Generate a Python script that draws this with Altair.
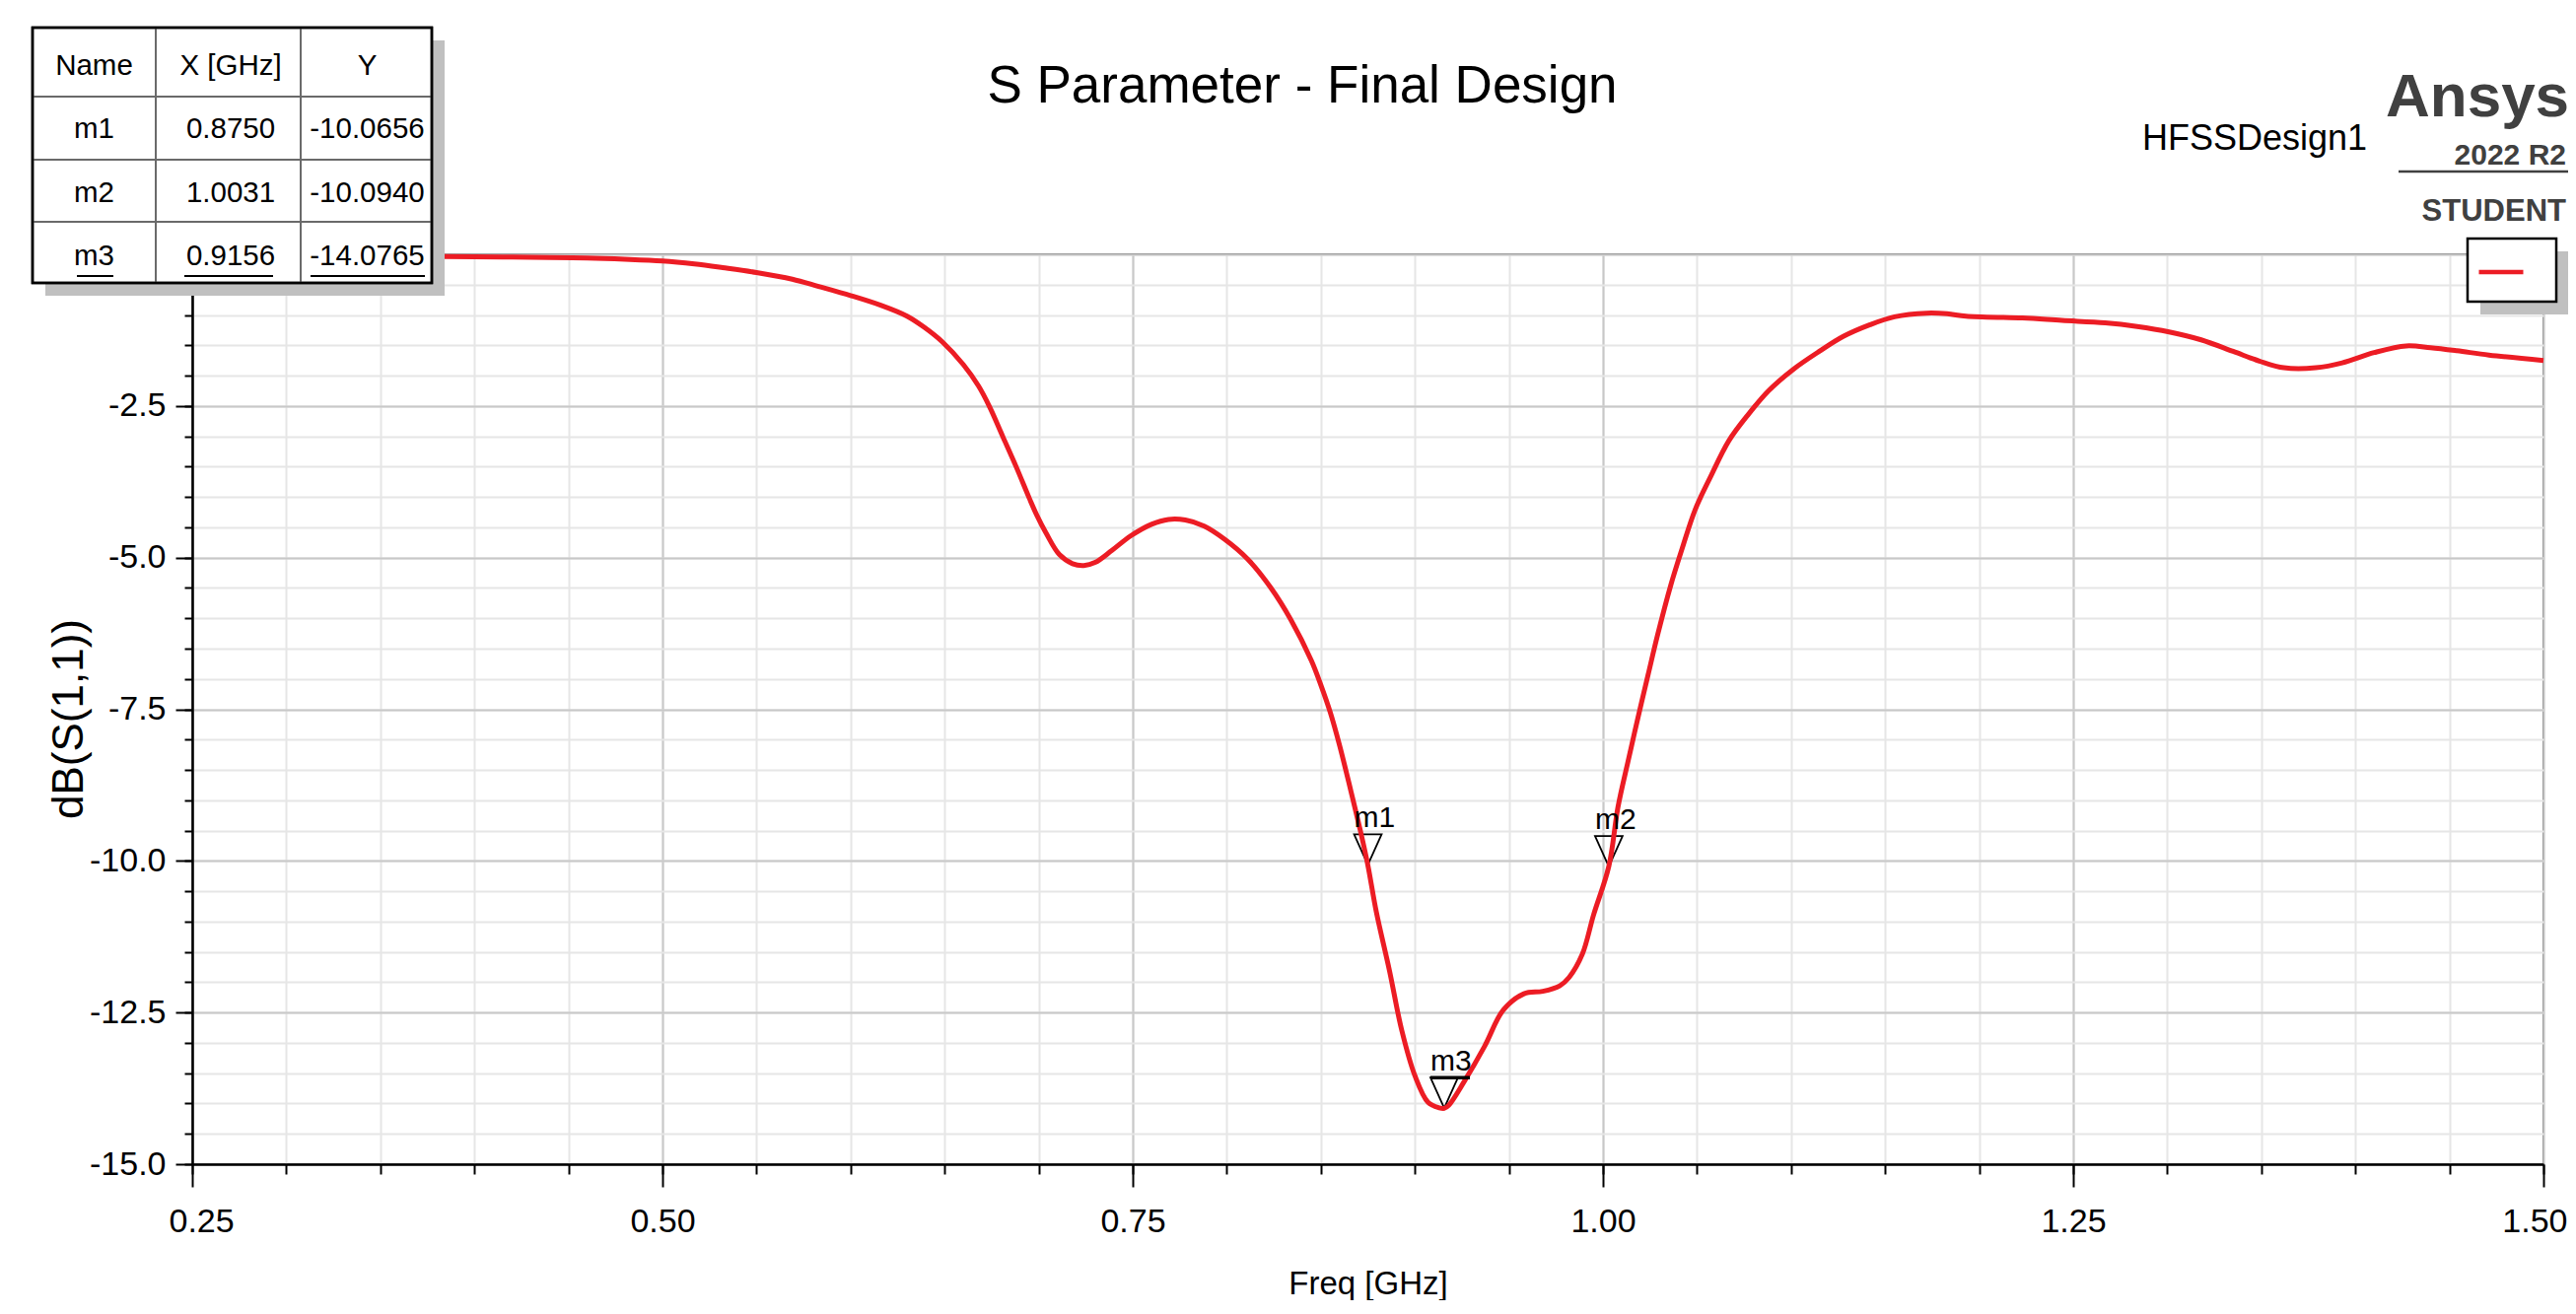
import altair as alt
import pandas as pd

# ---------------- data ----------------
freq = [0.25, 0.30, 0.35, 0.40, 0.43, 0.46, 0.48, 0.50, 0.517, 0.532, 0.55, 0.569, 0.583, 0.60,
        0.616, 0.630, 0.639, 0.649, 0.660, 0.668, 0.674, 0.681, 0.688, 0.695, 0.699, 0.704, 0.711,
        0.718, 0.724, 0.730, 0.739, 0.749, 0.760, 0.769, 0.778, 0.788, 0.799, 0.811, 0.8235, 0.834,
        0.845, 0.850, 0.855, 0.860, 0.866, 0.871, 0.875, 0.8795, 0.8865, 0.893, 0.900, 0.907, 0.913,
        0.9156, 0.918, 0.926, 0.937, 0.947, 0.958, 0.968, 0.977, 0.982, 0.989, 0.995, 1.0031, 1.008,
        1.0134, 1.0186, 1.024, 1.029, 1.036, 1.042, 1.049, 1.057, 1.067, 1.0775, 1.088, 1.101, 1.115,
        1.128, 1.142, 1.155, 1.172, 1.183, 1.193, 1.223, 1.244, 1.267, 1.284, 1.301, 1.318, 1.335,
        1.349, 1.362, 1.379, 1.393, 1.410, 1.427, 1.440, 1.454, 1.471, 1.50]
s11_db = [-0.01, -0.02, -0.03, -0.04, -0.05, -0.06, -0.08, -0.11, -0.16, -0.22, -0.30, -0.41, -0.53,
          -0.68, -0.84, -1.02, -1.20, -1.45, -1.82, -2.17, -2.52, -3.01, -3.50, -4.02, -4.30, -4.60,
          -4.95, -5.10, -5.13, -5.08, -4.88, -4.64, -4.45, -4.37, -4.38, -4.48, -4.70, -5.02, -5.50,
          -6.02, -6.70, -7.10, -7.55, -8.10, -8.85, -9.50, -10.07, -10.84, -11.81, -12.79, -13.54,
          -13.98, -14.07, -14.08, -14.03, -13.65, -13.06, -12.46, -12.19, -12.15, -12.06, -11.92,
          -11.54, -10.89, -10.09, -9.11, -8.35, -7.64, -6.93, -6.28, -5.46, -4.86, -4.21, -3.68,
          -3.07, -2.63, -2.25, -1.90, -1.60, -1.35, -1.16, -1.03, -0.97, -0.98, -1.02, -1.05, -1.09,
          -1.13, -1.19, -1.28, -1.41, -1.60, -1.76, -1.87, -1.87, -1.79, -1.62, -1.51, -1.54, -1.59,
          -1.66, -1.75]
assert len(freq) == len(s11_db)

marker_names = ["m1", "m2", "m3"]
marker_freq = [0.8750, 1.0031, 0.9156]
marker_db = [-10.0656, -10.0940, -14.0765]
table_header = ["Name", "X [GHz]", "Y"]

x_ticks = [0.25, 0.50, 0.75, 1.00, 1.25, 1.50]
y_ticks = [-15.0, -12.5, -10.0, -7.5, -5.0, -2.5, 0.0]
x_minor = [round(0.25 + 0.05 * i, 2) for i in range(26)]
y_minor = [round(-15 + 0.5 * i, 1) for i in range(31)]

chart_title = "S Parameter - Final Design"
design_name = "HFSSDesign1"
trace_name = "dB(S(1,1))"
x_title = "Freq [GHz]"

# ---------------- layout / style ----------------
PX0, PY0 = 195, 258          # page position of the plot origin
W, H = 2385, 923


def rx(px):
    return px - PX0


def ry(py):
    return py - PY0


FONT = "Liberation Sans, Arial, sans-serif"
RED = "#ec1c24"
MINOR = "#e6e6e6"
MAJOR = "#c8c8c8"
LOGO = "#404040"
TRI = "M -0.45 -1 L 0.45 -1 L 0 0 Z"
M3BAR = "M -0.45 -1 L 0.84 -1"
TRI_SIZE = 3844
HYPHEN = "replace(datum.label, '\u2212', '-')"

xs = alt.Scale(domain=[0.25, 1.5], nice=False, zero=False)
ys = alt.Scale(domain=[-15, 0], nice=False, zero=False)

curve_df = pd.DataFrame({"freq": freq, "db": s11_db, "trace": trace_name})
mk_df = pd.DataFrame({"name": marker_names, "freq": marker_freq, "db": marker_db})
one = pd.DataFrame({"k": [0]})

# minor grid / ticks carried by the marker triangles
x_minor_axis = alt.Axis(values=x_minor, grid=True, gridColor=MINOR, gridWidth=2, ticks=True,
                        tickSize=10, tickColor="black", tickWidth=2, labels=False, domain=False,
                        title=None, orient="bottom")
y_minor_axis = alt.Axis(values=y_minor, grid=True, gridColor=MINOR, gridWidth=2, ticks=True,
                        tickSize=8, tickColor="black", tickWidth=2, labels=False, domain=False,
                        title=None, orient="left")

x_major_axis = alt.Axis(values=x_ticks, format=".2f", grid=True, gridColor=MAJOR, gridWidth=2,
                        tickSize=23, tickColor="black", tickWidth=2, domain=True,
                        domainColor="black", domainWidth=2.5, labelFont=FONT, labelFontSize=34,
                        labelColor="black", labelPadding=18, labelFlush=True,
                        labelFlushOffset=24, labelOverlap=False,
                        title=x_title, titleFont=FONT, titleFontSize=33,
                        titleFontWeight="normal", titleColor="black", titleY=131,
                        titleBaseline="alphabetic", orient="bottom")
y_major_axis = alt.Axis(values=y_ticks, format=".1f", labelExpr=HYPHEN, grid=True,
                        gridColor=MAJOR, gridWidth=2,
                        tickSize=17, tickColor="black", tickWidth=2, domain=True,
                        domainColor="black", domainWidth=2.5, labelFont=FONT, labelFontSize=34,
                        labelColor="black", labelPadding=10, labelFlush=False, labelOverlap=False,
                        title=trace_name, titleFont=FONT, titleFontSize=44,
                        titleFontWeight="normal", titleColor="black", titleAngle=270,
                        titleX=-112, titleY=471, titleAlign="center",
                        titleBaseline="alphabetic", orient="left")

markers = alt.Chart(mk_df).mark_point(shape=TRI, size=TRI_SIZE, filled=False, color="black",
                                      strokeWidth=1.8, opacity=1).encode(
    x=alt.X("freq:Q", scale=xs, axis=x_minor_axis),
    y=alt.Y("db:Q", scale=ys, axis=y_minor_axis),
)

curve = alt.Chart(curve_df).mark_line(strokeWidth=5, interpolate="catmull-rom").encode(
    x=alt.X("freq:Q", scale=xs, axis=x_major_axis),
    y=alt.Y("db:Q", scale=ys, axis=y_major_axis),
    color=alt.Color("trace:N", scale=alt.Scale(domain=[trace_name], range=[RED]),
                    legend=alt.Legend(orient="none", legendX=rx(2503), legendY=ry(242),
                                      title=None, labelExpr="''", symbolType="stroke",
                                      symbolSize=2025, symbolStrokeWidth=4.5, padding=9,
                                      labelOffset=27, labelFontSize=10)),
)

m3bar = alt.Chart(mk_df).transform_filter(alt.datum.name == "m3").mark_point(
    shape=M3BAR, size=TRI_SIZE, filled=False, color="black", strokeWidth=3.5, opacity=1
).encode(x=alt.X("freq:Q", scale=xs, axis=None), y=alt.Y("db:Q", scale=ys, axis=None))

mlabels = alt.Chart(mk_df).mark_text(align="left", baseline="alphabetic", dx=-14, dy=-38,
                                     font=FONT, fontSize=30, color="black").encode(
    x=alt.X("freq:Q", scale=xs, axis=None),
    y=alt.Y("db:Q", scale=ys, axis=None),
    text="name:N",
)

main = alt.layer(markers, curve, m3bar, mlabels).resolve_axis(x="independent", y="independent")


def rect(x1, y1, x2, y2, **kw):
    return alt.Chart(one).mark_rect(**kw).encode(
        x=alt.value(rx(x1)), x2=alt.value(rx(x2)), y=alt.value(ry(y1)), y2=alt.value(ry(y2)))


def hline(x1, x2, y, **kw):
    return alt.Chart(one).mark_rule(**kw).encode(
        x=alt.value(rx(x1)), x2=alt.value(rx(x2)), y=alt.value(ry(y)))


def vline(x, y1, y2, **kw):
    return alt.Chart(one).mark_rule(**kw).encode(
        x=alt.value(rx(x)), y=alt.value(ry(y1)), y2=alt.value(ry(y2)))


def label(txt, x, y, **kw):
    return alt.Chart(one).mark_text(text=txt, baseline="alphabetic", **kw).encode(
        x=alt.value(rx(x)), y=alt.value(ry(y)))


# ---- marker table (built from the marker arrays) ----
cells = []
for h in table_header:
    cells.append({"row": "hdr", "col": h, "text": h})
for n, f, d in zip(marker_names, marker_freq, marker_db):
    cells.append({"row": n, "col": table_header[0], "text": n})
    cells.append({"row": n, "col": table_header[1], "text": f"{f:.4f}"})
    cells.append({"row": n, "col": table_header[2], "text": f"{d:.4f}"})
cells_df = pd.DataFrame(cells)

table_text = alt.Chart(cells_df).mark_text(font=FONT, fontSize=29.5, color="black",
                                           baseline="middle", align="center").encode(
    x=alt.X("col:N", scale=alt.Scale(domain=table_header, range=[rx(95.5), rx(372.5)],
                                      padding=0), axis=None),
    y=alt.Y("row:N", scale=alt.Scale(domain=["hdr"] + marker_names, range=[ry(67), ry(260)],
                                      padding=0), axis=None),
    text="text:N",
)

T_L, T_R, T_T, T_B = 33, 438, 28, 287
table_layers = [
    rect(T_L + 13, T_T + 13, T_R + 13, T_B + 13, fill="#c0c0c0"),
    rect(T_L, T_T, T_R, T_B, fill="white", stroke="black", strokeWidth=2.5),
    vline(158, T_T, T_B, color="#6a6a6a", strokeWidth=2),
    vline(305, T_T, T_B, color="#6a6a6a", strokeWidth=2),
    hline(T_L, T_R, 98, color="#6a6a6a", strokeWidth=2),
    hline(T_L, T_R, 162, color="#6a6a6a", strokeWidth=2),
    hline(T_L, T_R, 225, color="#6a6a6a", strokeWidth=2),
    rect(T_L, T_T, T_R, T_B, fill="transparent", stroke="black", strokeWidth=2.5),
    hline(78, 115, 280, color="black", strokeWidth=2),
    hline(187, 277, 280, color="black", strokeWidth=2),
    hline(315, 431, 280, color="black", strokeWidth=2),
    table_text,
]

# ---- legend frame (legend itself is the real color legend) ----
legend_frame = [
    rect(2516, 255, 2606, 319, fill="#c0c0c0"),
    rect(2503, 242, 2593, 306, fill="white", stroke="black", strokeWidth=2.5),
]

# ---- titles and logo ----
texts = [
    label(chart_title, 1321, 104, align="center", font=FONT, fontSize=53, color="black"),
    label(design_name, 2173, 152, align="left", font=FONT, fontSize=36, color="black"),
    label("Ansys", 2420, 118, align="left", font=FONT, fontSize=62, fontWeight="bold",
          color=LOGO),
    label("2022 R2", 2603, 167, align="right", font=FONT, fontSize=30, fontWeight="bold",
          color=LOGO),
    hline(2433, 2613, 174, color=LOGO, strokeWidth=2.5),
    label("STUDENT", 2603, 224, align="right", font=FONT, fontSize=31, fontWeight="bold",
          color=LOGO),
]

chart = alt.layer(main, *legend_frame, *table_layers, *texts).resolve_scale(
    x="independent", y="independent"
).properties(
    width=W, height=H,
    padding={"left": 187, "top": 250, "right": 25, "bottom": 138},
    autosize=alt.AutoSizeParams(type="none"),
    background="white",
).configure_view(stroke="black", strokeWidth=2)

chart.save("out.html", embed_options={"renderer": "svg", "actions": False})
